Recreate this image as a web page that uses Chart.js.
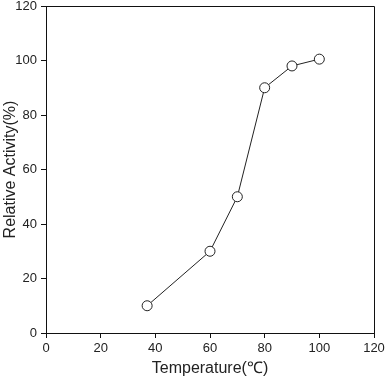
<!DOCTYPE html>
<html>
<head>
<meta charset="utf-8">
<script src="https://cdn.jsdelivr.net/npm/chart.js@4/dist/chart.umd.min.js"></script>
<style>
  html, body { margin: 0; padding: 0; background: #fff; }
  #wrap { width: 385px; height: 380px; position: relative; }
</style>
</head>
<body>
<div id="wrap"><canvas id="c" width="385" height="380"></canvas></div>
<script>
const temperatures = [37, 60, 70, 80, 90, 100];
const activities = [10, 30, 50, 90, 98, 100.5];
const xTicks = [0, 20, 40, 60, 80, 100, 120];
const yTicks = [0, 20, 40, 60, 80, 100, 120];
const xTitle = 'Temperature(℃)';
const yTitle = 'Relative Activity(%)';

const points = temperatures.map((t, i) => ({ x: t, y: activities[i] }));

const frame = {
  id: 'frame',
  afterDraw(chart) {
    const { ctx, chartArea: a } = chart;
    ctx.save();
    ctx.strokeStyle = '#111';
    ctx.lineWidth = 1;
    ctx.beginPath();
    ctx.moveTo(a.left, a.top + 0.5);
    ctx.lineTo(a.right + 0.5, a.top + 0.5);
    ctx.lineTo(a.right + 0.5, a.bottom);
    ctx.stroke();
    ctx.restore();
  }
};

const tickFont = { family: 'Liberation Sans, Arial, sans-serif', size: 13 };
const titleFont = { family: 'Liberation Sans, Arial, sans-serif', size: 16 };

new Chart(document.getElementById('c'), {
  type: 'scatter',
  data: {
    datasets: [{
      data: points,
      showLine: true,
      borderColor: '#222',
      borderWidth: 1,
      pointRadius: 5,
      pointHoverRadius: 5,
      pointBackgroundColor: '#fff',
      pointBorderColor: '#222',
      pointBorderWidth: 1
    }]
  },
  options: {
    responsive: false,
    animation: false,
    layout: { padding: { top: 6, right: 11, left: 0, bottom: 0 } },
    plugins: { legend: { display: false }, tooltip: { enabled: false } },
    scales: {
      x: {
        type: 'linear',
        min: 0, max: 120,
        afterBuildTicks: s => { s.ticks = xTicks.map(v => ({ value: v })); },
        afterFit: s => { s.height = 47; s.paddingLeft = 0; s.paddingRight = 0; },
        ticks: { font: tickFont, color: '#222', padding: 3, maxRotation: 0 },
        grid: { drawOnChartArea: false, drawTicks: true, tickLength: 5, color: '#111' },
        border: { display: true, color: '#111', width: 1 },
        title: { display: true, text: xTitle, font: titleFont, color: '#222', padding: 2 }
      },
      y: {
        type: 'linear',
        min: 0, max: 120,
        afterBuildTicks: s => { s.ticks = yTicks.map(v => ({ value: v })); },
        afterFit: s => { s.width = 46; s.paddingTop = 0; s.paddingBottom = 0; },
        ticks: { font: tickFont, color: '#222', padding: 4 },
        grid: { drawOnChartArea: false, drawTicks: true, tickLength: 5, color: '#111' },
        border: { display: true, color: '#111', width: 1 },
        title: { display: true, text: yTitle, font: titleFont, color: '#222', padding: 1 }
      }
    }
  },
  plugins: [frame]
});
</script>
</body>
</html>
